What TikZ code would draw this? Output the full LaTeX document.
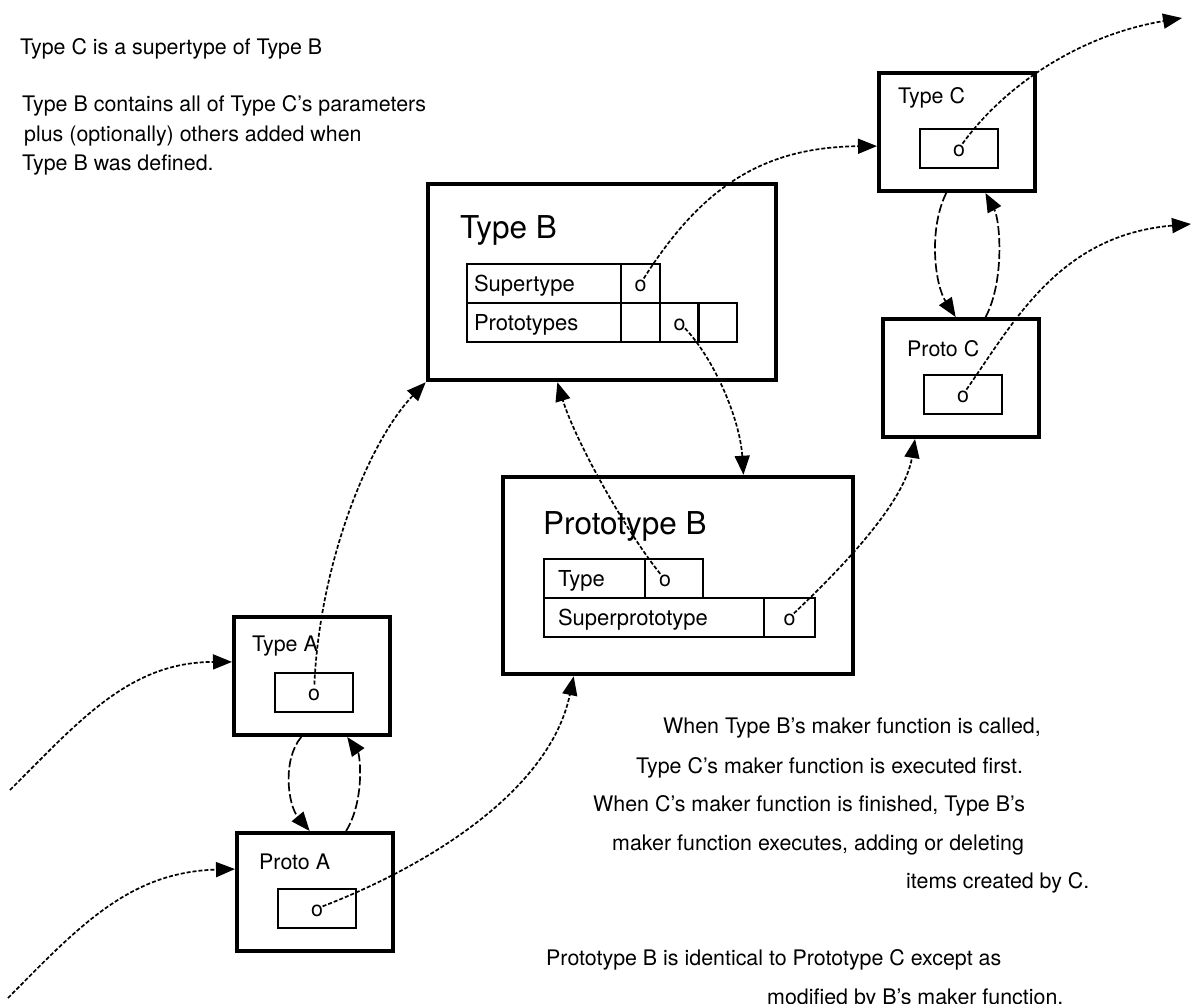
\documentclass[tikz,border=0pt]{standalone}
\usepackage{fontspec}
\setmainfont{TeX Gyre Heros}
\usetikzlibrary{arrows.meta}

\begin{document}
\begin{tikzpicture}
  [x=1pt,y=-1pt,
   every node/.style={font=\fontsize{21.4}{26}\selectfont},
   note/.style={anchor=base west,inner sep=0pt},
   boxname/.style={note},
   bigname/.style={note,font=\fontsize{31.5}{36}\selectfont},
   bigbox/.style={draw,line width=4.5pt,minimum width=348pt,minimum height=196pt},
   smallbox/.style={draw,line width=4pt,anchor=north west,minimum width=156pt,minimum height=118pt},
   slot/.style={draw,line width=2pt,anchor=north west,inner sep=0pt,minimum width=78pt,minimum height=39pt,text height=17pt,text depth=2pt},
   cell/.style={slot,minimum width=0pt,align=left,font=\fontsize{22}{26}\selectfont},
   ocell/.style={slot,minimum width=39pt},
   link/.style={line width=1.7pt,dash pattern=on 4pt off 2pt,-{Triangle[length=19pt,width=15pt]}},
   bow/.style={link,dash pattern=on 9pt off 3pt}]

  \useasboundingbox (0,0) rectangle (1192,1004);

  \node[note] (n1) at (20,54) {Type C is a supertype of Type B};
  \node[note] (n2) at (22,111) {Type B contains all of Type C's parameters};
  \node[note] (n3) at (24,141) {plus (optionally) others added when};
  \node[note] (n4) at (22,170) {Type B was defined.};

  \node[bigbox] (typeb) at (602,282) {};
  \node[bigname] (nametypeb) at (460,238) {Type B};
  \node[cell,inner xsep=7pt,text width=140pt] (bsup) at (466,263) {Supertype};
  \node[ocell] (bsupo) at (620,263) {o};
  \node[cell,inner xsep=7pt,text width=140pt] (bpro) at (466,302) {Prototypes};
  \node[ocell] (bpro1) at (620,302) {};
  \node[ocell] (bpro2) at (659,302) {o};
  \node[ocell] (bpro3) at (697,302) {};

  \node[bigbox,minimum width=350pt,minimum height=197pt] (protob) at (678,575.5) {};
  \node[bigname] (nameprotob) at (543,534) {Prototype B};
  \node[cell,inner xsep=14pt,text width=73pt] (ptype) at (543,558) {Type};
  \node[ocell,minimum width=58pt] (ptypeo) at (644,558) {o\hspace*{18pt}};
  \node[cell,inner xsep=14pt,text width=192pt] (psup) at (543,597) {Superprototype};
  \node[ocell,minimum width=51pt] (psupo) at (763,597) {o};

  \foreach \n/\x/\y/\t/\tx/\ty in {typec/877/71/Type C/21/32,protoc/881/317/Proto C/26/39,typea/232/615/Type A/20/36,protoa/235/831/Proto A/24/38}{
    \node[smallbox] (\n) at (\x,\y) {};
    \node[boxname] (name\n) at (\x+\tx,\y+\ty) {\t};
    \node[slot] (slot\n) at (\x+42,\y+57) {o};
  }

  \coordinate (outc) at (1182,18);
  \coordinate (outpc) at (1191,224);
  \coordinate (ina) at (10,790);
  \coordinate (inpa) at (8,998);

  \draw[link,shorten <=6pt] (bsupo.center) .. controls (700,190) and (760,147) .. (typec.190);
  \draw[link,shorten <=6pt] (slottypec.center) .. controls (1005,85) and (1080,35) .. (outc);
  \draw[bow] (typec.260) .. controls (928,230) and (935,285) .. (protoc.95);
  \draw[bow] (protoc.68) .. controls (1005,280) and (1000,220) .. (typec.-65);
  \draw[link,shorten <=6pt] (slotprotoc.center) .. controls (1015,320) and (1060,235) .. (outpc);
  \draw[link,shorten <=8pt] (bpro2.center) .. controls (715,360) and (740,420) .. (protob.57);
  \draw[link,shorten <=6pt] ([xshift=-10pt]ptypeo.center) .. controls (625,530) and (575,440) .. (typeb.246);
  \draw[link,shorten <=8pt] (slottypea.center) .. controls (320,560) and (370,440) .. (typeb.south west);
  \draw[link] (ina) .. controls (80,720) and (130,662) .. (typea.170);
  \draw[link] (inpa) .. controls (80,925) and (130,872) .. (protoa.164);
  \draw[bow] (typea.260) .. controls (282,760) and (288,805) .. (protoa.95);
  \draw[bow] (protoa.63) .. controls (365,800) and (360,755) .. (typea.-60);
  \draw[link,shorten <=6pt] (slotprotoa.center) .. controls (430,865) and (550,790) .. (protob.224);
  \draw[link,shorten <=6pt] (psupo.center) .. controls (850,560) and (905,500) .. (protoc.233);

  \node[note] (m1) at (663,733) {When Type B's maker function is called,};
  \node[note] (m2) at (636,773) {Type C's maker function is executed first.};
  \node[note] (m3) at (593,811) {When C's maker function is finished, Type B's};
  \node[note] (m4) at (612,850) {maker function executes, adding or deleting};
  \node[note] (m5) at (906,888) {items created by C.};
  \node[note] (m6) at (546,965) {Prototype B is identical to Prototype C except as};
  \node[note] (m7) at (767,1004) {modified by B's maker function.};
\end{tikzpicture}
\end{document}
